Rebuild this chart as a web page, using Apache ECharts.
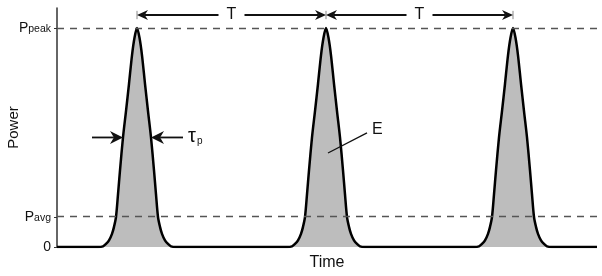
<!DOCTYPE html>
<html>
<head>
<meta charset="utf-8">
<script src="https://cdn.jsdelivr.net/npm/echarts@6/dist/echarts.min.js"></script>
<style>
html,body{margin:0;padding:0;background:#fff;}
#c{width:602px;height:276px;}
</style>
</head>
<body>
<div id="c"></div>
<script>
// ---- data (x in time units, y in units of peak power) ----
const xMin = 0, xMax = 540;
const yMin = 0, yMax = 1.091;
const pulseCenters = [80, 269, 456];
const profileOffsets = [-39, -34, -31, -28, -25, -23, -21, -19, -17, -14, -11, -8, -5, -2.5, 0, 2.5, 5, 8, 11, 14, 17, 19, 21, 23, 25, 28, 31, 34, 39];
const profileValues  = [0, 0.003, 0.014, 0.03, 0.06, 0.092, 0.137, 0.24, 0.35, 0.5, 0.62, 0.745, 0.875, 0.955, 1, 0.955, 0.875, 0.745, 0.62, 0.5, 0.35, 0.24, 0.137, 0.092, 0.06, 0.03, 0.014, 0.003, 0];
const pPeak = 1.0;
const pAvg = 0.137;
const yTickValues = [0, pAvg, pPeak];
const yTickLabels = ['0', 'avg', 'peak'];
const xName = 'Time';
const yName = 'Power';
const periodLabel = 'T';
const energyLabel = 'E';

// ---- build series ----
const pulseData = [[xMin, 0]];
pulseCenters.forEach(c => {
  profileOffsets.forEach((o, i) => pulseData.push([c + o, profileValues[i]]));
});
pulseData.push([xMax, 0]);

const FONT = '"Liberation Sans", Arial, sans-serif';
const chart = echarts.init(document.getElementById('c'), null, {renderer: 'canvas'});
chart.setOption({
  animation: false,
  backgroundColor: '#fff',
  grid: {left: 57, right: 5, top: 8, bottom: 29, containLabel: false, outerBoundsMode: 'none'},
  xAxis: {
    type: 'value', min: xMin, max: xMax,
    axisLine: {show: false}, axisTick: {show: false}, axisLabel: {show: false}, splitLine: {show: false},
    name: xName, nameLocation: 'middle', nameGap: 8, nameMoveOverlap: false,
    nameTextStyle: {fontSize: 16, color: '#111', fontFamily: FONT, verticalAlign: 'top'}
  },
  yAxis: {
    type: 'value', min: yMin, max: yMax,
    axisLine: {show: true, lineStyle: {color: '#333', width: 1.5}},
    axisTick: {show: true, customValues: yTickValues, length: 3, lineStyle: {color: '#333', width: 1}},
    splitLine: {show: false},
    axisLabel: {
      show: true, customValues: yTickValues, margin: 6,
      formatter: function (v) {
        const i = yTickValues.findIndex(t => Math.abs(t - v) < 1e-6);
        if (i === 0) return '{z|' + yTickLabels[0] + '}';
        return '{P|P}{s|' + yTickLabels[i] + '}';
      },
      rich: {
        z: {fontSize: 14, color: '#111', fontFamily: FONT, verticalAlign: 'bottom'},
        P: {fontSize: 14, color: '#111', fontFamily: FONT, verticalAlign: 'bottom'},
        s: {fontSize: 10.5, color: '#111', fontFamily: FONT, verticalAlign: 'bottom'}
      }
    },
    name: yName, nameLocation: 'middle', nameGap: 36, nameRotate: 90, nameMoveOverlap: false,
    nameTextStyle: {fontSize: 15, color: '#111', fontFamily: FONT}
  },
  series: [{
    type: 'line',
    data: pulseData,
    smooth: 0.3,
    showSymbol: false,
    symbol: 'none',
    lineStyle: {color: '#000', width: 2.5},
    areaStyle: {color: '#bdbdbd', opacity: 1},
    z: 2,
    markLine: {
      silent: true, symbol: 'none', label: {show: false},
      lineStyle: {type: [7, 6], color: '#555', width: 1.3},
      data: [{yAxis: pPeak}, {yAxis: pAvg}]
    }
  }]
});

// ---- annotations placed through the chart's own scales ----
function px(x, y) { return chart.convertToPixel({gridIndex: 0}, [x, y]); }
function arrow(from, to, len, hw) {
  const dx = to[0] - from[0], dy = to[1] - from[1];
  const L = Math.hypot(dx, dy), ux = dx / L, uy = dy / L, nx = -uy, ny = ux;
  const back = [to[0] - ux * len, to[1] - uy * len];
  const notch = [to[0] - ux * len * 0.7, to[1] - uy * len * 0.7];
  return [
    {type: 'line', z: 100, shape: {x1: from[0], y1: from[1], x2: notch[0], y2: notch[1]}, style: {stroke: '#111', lineWidth: 1.8}},
    {type: 'polygon', z: 100, shape: {points: [to, [back[0] + nx * hw, back[1] + ny * hw], notch, [back[0] - nx * hw, back[1] - ny * hw]]}, style: {fill: '#111'}}
  ];
}
const g = [];
const tY = 1.059;
for (let k = 0; k < pulseCenters.length - 1; k++) {
  const a = pulseCenters[k], b = pulseCenters[k + 1], mid = (a + b) / 2;
  g.push(...arrow(px(mid - 13, tY), px(a, tY), 11, 5));
  g.push(...arrow(px(mid + 13, tY), px(b, tY), 11, 5));
  const m = px(mid, tY);
  g.push({type: 'text', z: 100, x: m[0], y: m[1], style: {text: periodLabel, fontSize: 16, fontFamily: FONT, fill: '#111', align: 'center', verticalAlign: 'middle'}});
}
pulseCenters.forEach(c => {
  const p1 = px(c, 1.078), p2 = px(c, 1.04);
  g.push({type: 'line', z: 99, shape: {x1: p1[0], y1: p1[1], x2: p2[0], y2: p2[1]}, style: {stroke: '#888', lineWidth: 1}});
});
// pulse width arrows on the first pulse
const c0 = pulseCenters[0];
g.push(...arrow(px(c0 - 45, 0.5), px(c0 - 14, 0.5), 13, 6.5));
g.push(...arrow(px(c0 + 46, 0.5), px(c0 + 14, 0.5), 13, 6.5));
const tau = px(c0 + 51, 0.5);
g.push({type: 'text', z: 100, x: tau[0], y: tau[1] - 1, style: {text: 'τ', fontSize: 20, fontFamily: FONT, fill: '#111', align: 'left', verticalAlign: 'middle'}});
g.push({type: 'text', z: 100, x: tau[0] + 9, y: tau[1] + 4, style: {text: 'p', fontSize: 10, fontFamily: FONT, fill: '#111', align: 'left', verticalAlign: 'middle'}});
// energy label on the second pulse
const c1 = pulseCenters[1];
const e1 = px(c1 + 2, 0.429), e2 = px(c1 + 41, 0.521), eT = px(c1 + 46, 0.534);
g.push({type: 'line', z: 100, shape: {x1: e1[0], y1: e1[1], x2: e2[0], y2: e2[1]}, style: {stroke: '#111', lineWidth: 1.3}});
g.push({type: 'text', z: 100, x: eT[0], y: eT[1], style: {text: energyLabel, fontSize: 16, fontFamily: FONT, fill: '#111', align: 'left', verticalAlign: 'middle'}});
chart.setOption({graphic: g});
</script>
</body>
</html>
